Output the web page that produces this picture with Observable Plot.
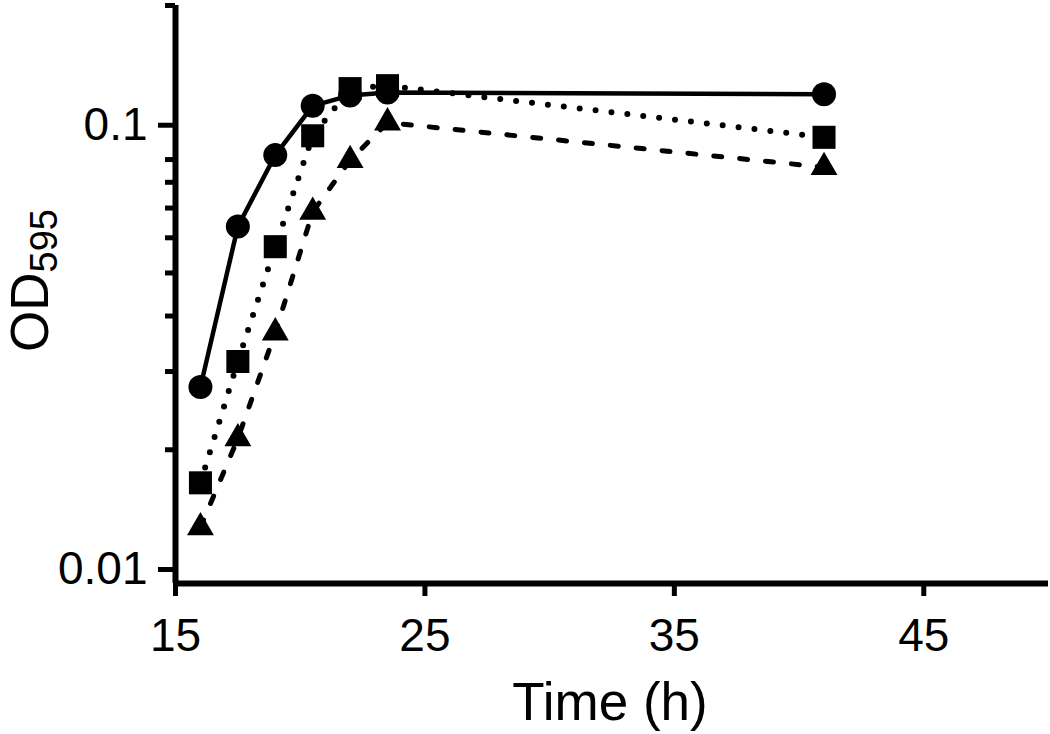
<!DOCTYPE html>
<html>
<head>
<meta charset="utf-8">
<script src="https://cdn.jsdelivr.net/npm/d3@7"></script>
<script src="https://cdn.jsdelivr.net/npm/@observablehq/plot@0.6"></script>
<style>
  html, body { margin: 0; padding: 0; background: white; }
  #chart svg { display: block; }
</style>
</head>
<body>
<div id="chart"></div>
<script>
// Data
const time = [16, 17.5, 19, 20.5, 22, 23.5, 41];
const circleOD = [0.0277, 0.0636, 0.0921, 0.1189, 0.1255, 0.1274, 0.1262];
const squareOD = [0.01685, 0.0316, 0.0573, 0.1018, 0.130, 0.132, 0.101];
const triangleOD = [0.01337, 0.0212, 0.0367, 0.0686, 0.0897, 0.109, 0.0865];

const xTicks = [15, 25, 35, 45];
const yMajorTicks = [0.01, 0.1];
const yMajorLabels = ["0.01", "0.1"];
const yMinorTicks = [0.02, 0.03, 0.04, 0.05, 0.06, 0.07, 0.08, 0.09, 0.2];

const xLabel = "Time (h)";
const yLabelMain = "OD";
const yLabelSub = "595";

const series = [
  {name: "circle", values: circleOD, symbol: "circle", r: 12, dash: null, width: 4.5},
  {name: "square", values: squareOD, symbol: "square", r: 13, dash: "0 16", width: 6},
  {name: "triangle", values: triangleOD, symbol: "triangle", r: 10, dash: "8 18", width: 5}
];

const rows = series.flatMap(s => time.map((t, i) => ({series: s.name, t, od: s.values[i]})));

const font = "'Liberation Sans', Arial, Helvetica, sans-serif";

const lineMarks = series.map(s => Plot.line(rows.filter(d => d.series === s.name), {
  x: "t", y: "od", stroke: "black", strokeWidth: s.width,
  strokeDasharray: s.dash, strokeLinecap: "round", strokeLinejoin: "round"
}));
const dotMarks = series.map(s => Plot.dot(rows.filter(d => d.series === s.name), {
  x: "t", y: "od", fill: "black", stroke: "none", symbol: s.symbol, r: s.r
}));

const chart = Plot.plot({
  width: 1050,
  height: 734,
  marginLeft: 175,
  marginRight: 2,
  marginTop: 5,
  marginBottom: 151,
  style: {fontFamily: font, background: "white", color: "black", overflow: "visible"},
  x: {domain: [15, 50]},
  y: {type: "log", domain: [0.01, 0.2]},
  marks: [
    Plot.axisY(yMinorTicks, {tickSize: 10, strokeWidth: 5, tickFormat: () => "", label: null}),
    Plot.axisY(yMajorTicks, {
      tickSize: 17, strokeWidth: 5, tickPadding: 11, fontSize: 46, dy: -14,
      tickFormat: d => yMajorLabels[yMajorTicks.indexOf(d)], label: null
    }),
    Plot.axisX(xTicks, {tickSize: 13, strokeWidth: 5, tickPadding: 22, fontSize: 46, label: null}),
    Plot.ruleX([15], {stroke: "black", strokeWidth: 6}),
    Plot.ruleY([0.01], {stroke: "black", strokeWidth: 6}),
    ...lineMarks,
    ...dotMarks
  ]
});

const svg = d3.select(chart);
// y axis label with subscript
const yl = svg.append("text")
  .attr("transform", "translate(48,352) rotate(-90)")
  .attr("text-anchor", "start")
  .attr("font-family", font)
  .attr("font-size", 53)
  .attr("fill", "black");
yl.append("tspan").text(yLabelMain);
yl.append("tspan").attr("font-size", 38).attr("dy", 9).text(yLabelSub);

// x axis label
svg.append("text")
  .attr("x", 610)
  .attr("y", 720)
  .attr("text-anchor", "middle")
  .attr("font-family", font)
  .attr("font-size", 53)
  .attr("fill", "black")
  .text(xLabel);

document.getElementById("chart").appendChild(chart);
</script>
</body>
</html>
